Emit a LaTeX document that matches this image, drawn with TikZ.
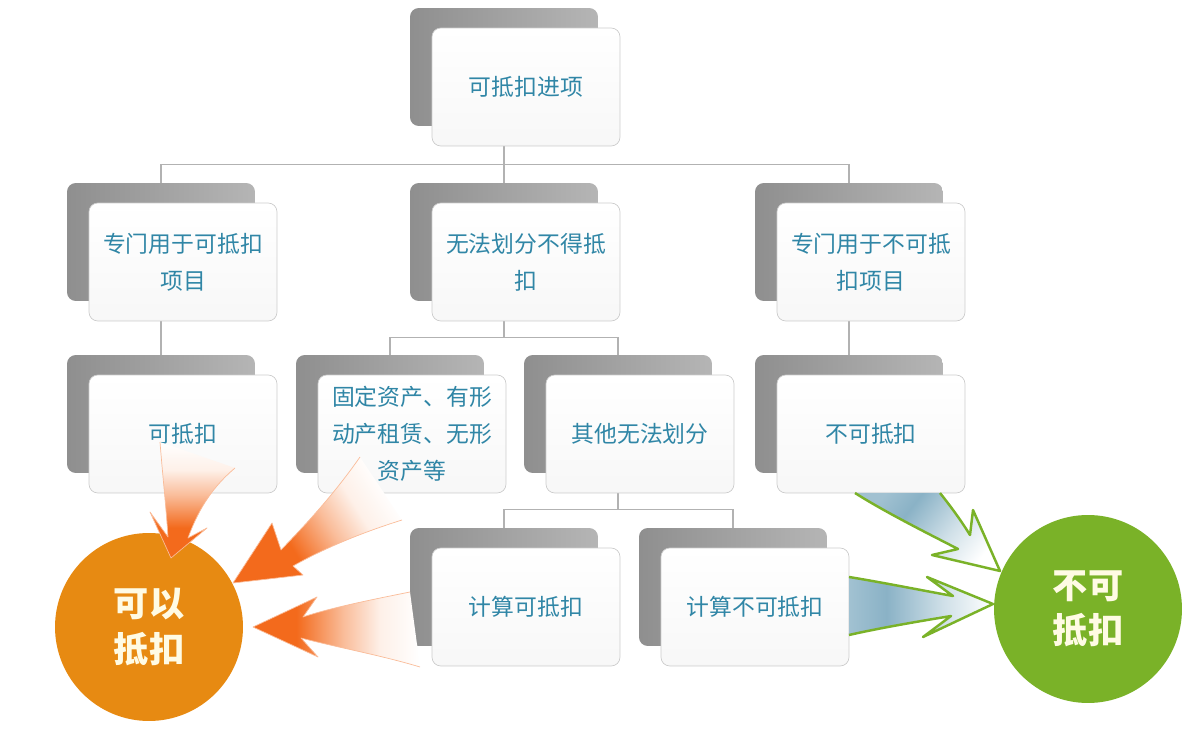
\documentclass[tikz,border=0pt]{standalone}
\usepackage{fontspec}
\newfontfamily\cjk{Noto Sans CJK SC}
\usepackage{tikz}
\usetikzlibrary{calc, backgrounds}

\definecolor{txtblue}{RGB}{48,134,166}
\definecolor{linkgray}{RGB}{178,178,178}
\definecolor{yesorange}{RGB}{231,138,18}
\definecolor{nogreen}{RGB}{122,178,40}
\definecolor{arrorange}{RGB}{243,106,28}
\definecolor{steel}{RGB}{138,178,198}
\definecolor{cream}{RGB}{255,251,228}
\colorlet{orangemid}{arrorange!45!white}
\colorlet{orangepale}{arrorange!10!white}
\colorlet{steelpale}{steel!40!white}
\colorlet{steeltail}{steel!80!white}

% fades: colour 0 sits at the arrow tip
\pgfdeclarehorizontalshading{orangefade}{100bp}{color(0bp)=(arrorange); color(25bp)=(arrorange);
  color(38bp)=(arrorange); color(52bp)=(orangemid); color(63bp)=(orangepale); color(75bp)=(white); color(100bp)=(white)}
\pgfdeclarehorizontalshading{bluefade}{100bp}{color(0bp)=(white); color(25bp)=(white);
  color(42bp)=(steelpale); color(62bp)=(steel); color(75bp)=(steeltail); color(100bp)=(steeltail)}

\tikzset{
  cardbg/.style={rounded corners=5pt, minimum width=3.76cm, minimum height=2.36cm,
    left color=gray!88, right color=gray!58},
  card/.style={draw=gray!40, rounded corners=5pt, minimum width=3.76cm, minimum height=2.36cm,
    top color=white, bottom color=gray!6, align=center, text=txtblue,
    font=\cjk\fontsize{13}{21}\selectfont},
  link/.style={draw=linkgray, line width=0.7pt},
  bigdot/.style={circle, minimum size=3.76cm, inner sep=0pt, align=center, text=cream,
    font=\cjk\bfseries\fontsize{20}{26}\selectfont},
  yesarrow/.style={shading=orangefade, draw=arrorange!45, line width=0.4pt, line join=round},
  noarrow/.style={shading=bluefade, draw=nogreen, line width=1.4pt, line join=round},
}

% gray card behind, white card in front
\newcommand{\card}[4]{%
  \node[cardbg] (#1bg) at (#2,#3) {};
  \node[card] (#1) at ($(#1bg)+(22,20)$) {#4};}

\begin{document}
\begin{tikzpicture}[x=0.02cm, y=-0.02cm]
  \useasboundingbox (0,0) rectangle (1200,732);

  % Cards
  \card{top}{504}{67}{可抵扣进项}
  \card{left}{161}{242}{专门用于可抵扣\\项目}
  \card{mid}{504}{242}{无法划分不得抵\\扣}
  \card{right}{849}{242}{专门用于不可抵\\扣项目}
  \card{yes}{161}{414}{可抵扣}
  \card{fix}{390}{414}{固定资产、有形\\动产租赁、无形\\资产等}
  \card{other}{618}{414}{其他无法划分}
  \card{no}{849}{414}{不可抵扣}
  \card{calcyes}{504}{587}{计算可抵扣}
  \card{calcno}{733}{587}{计算不可抵扣}

  % Tree lines
  \begin{scope}[on background layer]
    \draw[link] (topbg.south) -- (midbg.north);
    \draw[link] (leftbg.north) -- ++(0,-18) -| (rightbg.north);
    \draw[link] (leftbg.south) -- (yesbg.north);
    \draw[link] (rightbg.south) -- (nobg.north);
    \draw[link] (midbg.south) -- ($(fixbg.north -| midbg.south)+(0,-17)$);
    \draw[link] (fixbg.north) -- ++(0,-17) -| (otherbg.north);
    \draw[link] (otherbg.south) -- ($(calcyesbg.north -| otherbg.south)+(0,-18)$);
    \draw[link] (calcyesbg.north) -- ++(0,-18) -| (calcnobg.north);
  \end{scope}

  % Result circles
  \node[bigdot, fill=yesorange] (can) at (149,627) {可以\\抵扣};
  \node[bigdot, fill=nogreen] (cannot) at (1088,609) {不可\\抵扣};

  % Orange arrows into the left circle
  \shadedraw[yesarrow, shading angle=90] (160,442) .. controls (163,480) and (166,505) .. (168,537)
    -- (150,512) -- (171,558) -- (207,528) -- (188,538)
    .. controls (200,505) and (215,485) .. (235,468);
  \shadedraw[yesarrow, shading angle=32] (360,457) .. controls (330,500) and (300,530) .. (281,550)
    -- (272,523) -- (233,583) -- (303,575) -- (293,566)
    .. controls (330,545) and (370,530) .. (402,520);
  \shadedraw[yesarrow, shading angle=0] (410,592) .. controls (370,600) and (330,608) .. (303,617)
    -- (317,597) -- (253,627) -- (318,657) -- (301,638)
    .. controls (340,648) and (380,655) .. (420,667);

  % Green arrows into the right circle
  \shadedraw[noarrow, shading angle=142] (940,493) .. controls (952,508) and (962,522) .. (970,535)
    -- (973,510) -- (1000,571) -- (932,555) -- (958,549)
    .. controls (925,532) and (885,512) .. (855,493);
  \shadedraw[noarrow, shading angle=180] (849,577) .. controls (880,582) and (920,590) .. (953,596)
    -- (927,577) -- (993,604) -- (923,637) -- (951,616)
    .. controls (915,622) and (880,628) .. (849,635);
\end{tikzpicture}
\end{document}
